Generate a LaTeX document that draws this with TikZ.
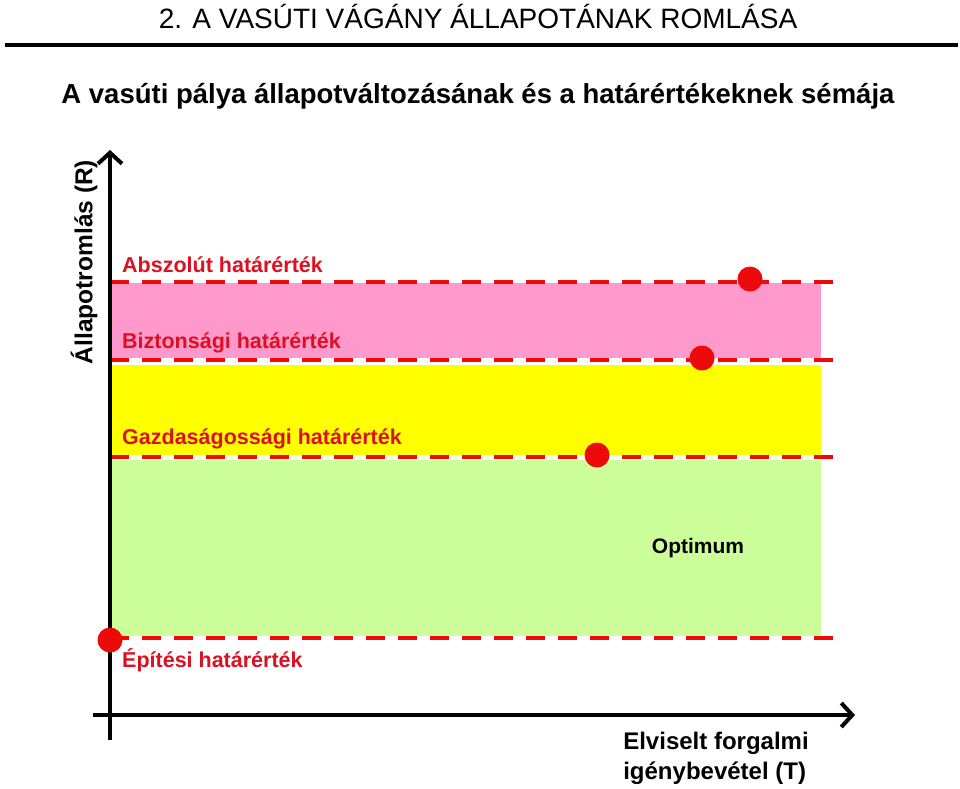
\documentclass[tikz,border=0pt]{standalone}
\usepackage{fontspec}
\setmainfont{Liberation Sans}
\usepackage{xcolor}
\usetikzlibrary{arrows.meta}
\definecolor{limred}{HTML}{EE0A0A}
\definecolor{labred}{HTML}{DC1020}
\definecolor{bandpink}{HTML}{FF99CC}
\definecolor{bandyellow}{HTML}{FFFF00}
\definecolor{bandgreen}{HTML}{CCFF99}
\tikzset{limline/.style={draw=limred,line width=4.5pt,dash pattern=on 19pt off 13pt},
  limlabel/.style={anchor=west,inner sep=0pt,text=labred,font=\fontsize{21.5}{24}\selectfont\bfseries},
  dot/.style={circle,fill=limred,minimum size=25pt,inner sep=0pt},
  axis/.style={line width=4pt,-{Straight Barb[length=11pt,width=24pt,line width=4pt]}}}

\begin{document}
\begin{tikzpicture}[x=1pt,y=-1pt]
        \useasboundingbox (0,0) rectangle (960,788);
        % title
        \node (title) at (478,16) {\fontsize{28}{32}\selectfont 2. A VASÚTI VÁGÁNY ÁLLAPOTÁNAK ROMLÁSA};
        \draw[line width=4pt] (5,45) -- (958,45);
        \node (sub) at (478,96) {\fontsize{27.5}{32}\selectfont\bfseries A vasúti pálya állapotváltozásának és a határértékeknek sémája};

        % bands
        \fill[bandpink] (110,283) rectangle (821,358);
        \fill[bandyellow] (110,365) rectangle (821,455);
        \fill[bandgreen] (110,460) rectangle (821,636);

        % limit lines
        \draw[limline] (110,282) -- (834,282);
        \draw[limline] (110,360) -- (834,360);
        \draw[limline] (110,457) -- (834,457);
        \draw[limline] (110,638) -- (834,638);

        % axes
        \coordinate (o1) at (110,740);
        \coordinate (ytip) at (110,150);
        \coordinate (o2) at (93,715);
        \coordinate (xtip) at (855,715);
        \draw[axis] (o1) -- (ytip);
        \draw[axis] (o2) -- (xtip);

        % labels
        \node[limlabel] (abs) at (122,265) {Abszolút határérték};
        \node[limlabel] (bizt) at (122,343) {Biztonsági határérték};
        \node[limlabel] (gazd) at (122,439) {Gazdaságossági határérték};
        \node[limlabel] (epit) at (122,660) {Építési határérték};
        \node[font=\fontsize{21}{24}\selectfont\bfseries] (opt) at (698,548) {Optimum};
        \node[rotate=90,font=\fontsize{24.5}{28}\selectfont\bfseries] (ylab) at (84,262) {Állapotromlás (R)};
        \node[align=left,font=\fontsize{24}{30}\selectfont\bfseries] (xlab) at (716,758) {Elviselt forgalmi\\igénybevétel (T)};

        % points
        \node[dot] (p1) at (750,279) {};
        \node[dot] (p2) at (702,358) {};
        \node[dot] (p3) at (597,455) {};
        \node[dot] (p4) at (110,640) {};
\end{tikzpicture}
\end{document}
